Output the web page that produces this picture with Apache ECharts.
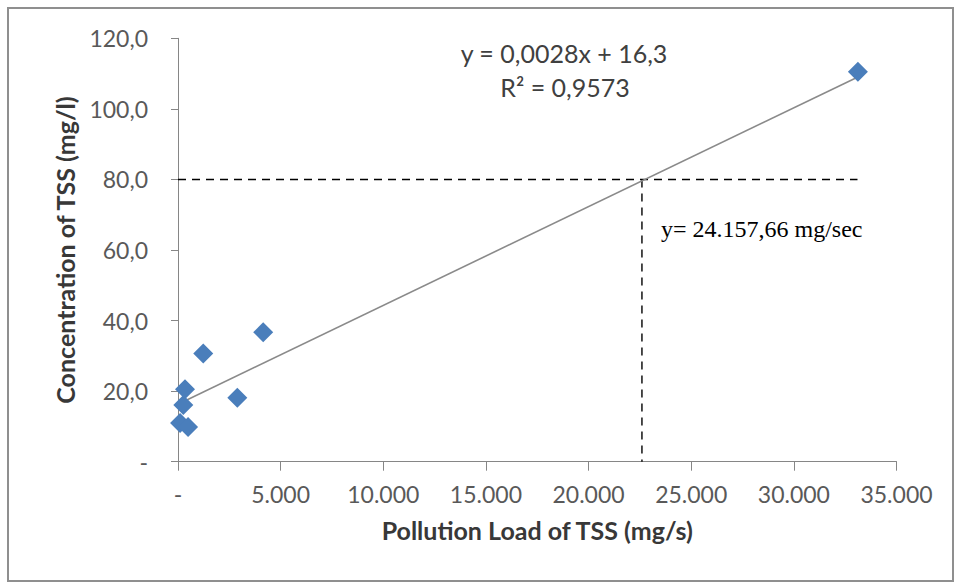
<!DOCTYPE html>
<html>
<head>
<meta charset="utf-8">
<script src="https://cdn.jsdelivr.net/npm/echarts@6/dist/echarts.min.js"></script>
<style>
  html, body { margin: 0; padding: 0; background: #ffffff; }
  #frame { position: absolute; left: 7px; top: 7px; width: 943px; height: 571px; border: 2px solid #8f8f8f; }
  #chart { position: absolute; left: 0; top: 0; width: 956px; height: 583px; }
</style>
</head>
<body>
<div id="frame"></div>
<div id="chart"></div>
<script>
// Measured samples: pollution load (mg/s) vs TSS concentration (mg/l)
const loads = [100, 260, 340, 490, 1230, 2890, 4150, 33120];
const concentrations = [11.0, 16.1, 20.5, 9.8, 30.7, 18.1, 36.7, 110.5];

// Linear trendline fitted in the spreadsheet
const slope = 0.0028;
const intercept = 16.3;
const equationText = 'y = 0,0028x + 16,3';
const r2Text = 'R² = 0,9573';

// Reference level and the load where it crosses the trendline
const targetConcentration = 80;
const targetLoad = 22600;
const guideEnd = 33100;
const guideText = 'y= 24.157,66 mg/sec';

// Axis tick labels
const xTickLabels = ['-', '5.000', '10.000', '15.000', '20.000', '25.000', '30.000', '35.000'];
const yTickLabels = ['-', '20,0', '40,0', '60,0', '80,0', '100,0', '120,0'];

const xMin = Math.min(...loads);
const xMax = Math.max(...loads);
const trend = [xMin, xMax].map(x => [x, slope * x + intercept]);
const points = loads.map((x, i) => [x, concentrations[i]]);

const labelFont = 'Lato';
const axisColor = '#868686';
const dashStyle = { color: '#000000', width: 1.4, type: [8, 6] };

const chart = echarts.init(document.getElementById('chart'), null, { renderer: 'svg' });
chart.setOption({
  backgroundColor: 'transparent',
  animation: false,
  grid: { left: 178, right: 59.5, top: 38.3, bottom: 121.3 },
  xAxis: {
    type: 'value', min: 0, max: 35000, interval: 5000,
    name: 'Pollution Load of TSS (mg/s)', nameLocation: 'middle', nameGap: 56,
    nameTextStyle: { fontFamily: labelFont, fontWeight: 'bold', fontSize: 25, color: '#383838' },
    axisLine: { show: true, lineStyle: { color: axisColor, width: 1 } },
    axisTick: { show: true, inside: false, length: 9, lineStyle: { color: axisColor } },
    axisLabel: {
      margin: 21, fontFamily: labelFont, fontSize: 23, color: '#595959',
      formatter: v => xTickLabels[Math.round(v / 5000)]
    },
    splitLine: { show: false }
  },
  yAxis: {
    type: 'value', min: 0, max: 120, interval: 20,
    name: 'Concentration of TSS (mg/l)', nameLocation: 'middle', nameGap: 101, nameRotate: 90,
    nameTextStyle: { fontFamily: labelFont, fontWeight: 'bold', fontSize: 25, color: '#383838' },
    axisLine: { show: true, lineStyle: { color: axisColor, width: 1 } },
    axisTick: { show: true, inside: false, length: 7, lineStyle: { color: axisColor } },
    axisLabel: {
      margin: 30, fontFamily: labelFont, fontSize: 23, color: '#595959',
      formatter: v => yTickLabels[Math.round(v / 20)]
    },
    splitLine: { show: false }
  },
  series: [
    {
      type: 'line', data: [[0, targetConcentration], [guideEnd, targetConcentration]],
      symbol: 'none', silent: true, z: 1, lineStyle: dashStyle
    },
    {
      type: 'line', data: [[targetLoad, targetConcentration], [targetLoad, 0]],
      symbol: 'none', silent: true, z: 1, lineStyle: dashStyle
    },
    {
      type: 'line', data: trend, symbol: 'none', silent: true, z: 2,
      lineStyle: { color: '#8a8a8a', width: 1.6 }
    },
    {
      type: 'scatter', data: points, symbol: 'diamond', symbolSize: 20, z: 3,
      itemStyle: { color: '#4a7ebb', opacity: 1 }
    }
  ],
  // Trendline equation and the crossing annotation, placed in pixel space
  graphic: [
    {
      type: 'text', x: 564, y: 53,
      style: { text: equationText, font: '25px Lato', fill: '#404040', align: 'center', verticalAlign: 'middle' }
    },
    {
      type: 'text', x: 565, y: 87,
      style: { text: r2Text, font: '25px Lato', fill: '#404040', align: 'center', verticalAlign: 'middle' }
    },
    {
      type: 'text', x: 661, y: 229,
      style: { text: guideText, font: '24px "Liberation Serif", "Times New Roman", serif', fill: '#000000', align: 'left', verticalAlign: 'middle' }
    }
  ]
});
</script>
</body>
</html>
